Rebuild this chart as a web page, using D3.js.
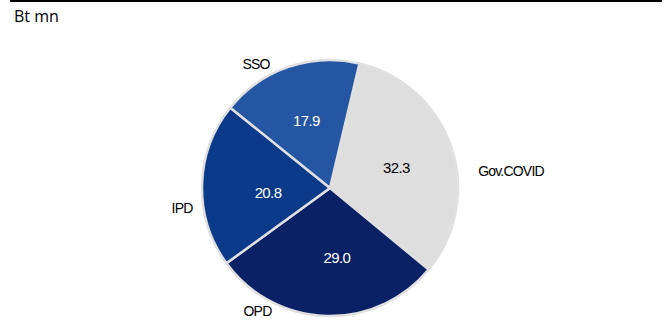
<!DOCTYPE html>
<html><head><meta charset="utf-8">
<script src="https://cdn.jsdelivr.net/npm/d3@7"></script>
<style>body{margin:0;background:#fff}svg{display:block}</style>
</head><body><svg id="c" width="666" height="328"></svg>
<script>
const categories = ["Gov.COVID", "OPD", "IPD", "SSO"];
const values = [32.3, 29.0, 20.8, 17.9];
const colors = ["#dedede", "#0b2166", "#0b3a8a", "#2456a3"];
const valueColors = ["#000000", "#ffffff", "#ffffff", "#ffffff"];
const unitLabel = "Bt mn";

const svg = d3.select("#c");
svg.append("line").attr("x1", 10).attr("x2", 662).attr("y1", 1).attr("y2", 1)
  .attr("stroke", "#000").attr("stroke-width", 2);
svg.append("text").attr("x", 14).attr("y", 22).text(unitLabel)
  .attr("font-family", "Open Sans, Noto Sans, sans-serif").attr("font-size", 16).attr("fill", "#000");

const cx = 330, cy = 188, r = 128;
const data = categories.map((c, i) => ({cat: c, v: values[i], i}));
const startA = 13.3 * Math.PI / 180;
const pie = d3.pie().value(d => d.v).sort(null).startAngle(startA).endAngle(startA + 2 * Math.PI);
const arcs = pie(data);
const arc = d3.arc().innerRadius(0).outerRadius(r);
const g = svg.append("g").attr("transform", `translate(${cx},${cy})`);

g.selectAll("path").data(arcs).join("path")
  .attr("d", arc).attr("fill", d => colors[d.data.i])
  .attr("stroke", "#e0e0e0").attr("stroke-width", 2.5).attr("stroke-linejoin", "round");

// label placement tweaks (Excel-style best-fit positions), in pixels
const valueNudge = {"Gov.COVID": [0, 2], "OPD": [9, 0], "IPD": [8, 6], "SSO": [-1, -1]};
const catNudge = {"Gov.COVID": [43.5, 29], "OPD": [-68, -22], "IPD": [-3, 24], "SSO": [-27, 13]};

const inner = d3.arc().innerRadius(70).outerRadius(70);
g.selectAll("text.val").data(arcs).join("text").attr("class", "val")
  .attr("transform", d => {
    const [x, y] = inner.centroid(d), n = valueNudge[d.data.cat];
    return `translate(${x + n[0]},${y + n[1]})`;
  })
  .attr("text-anchor", "middle").attr("dy", "0.36em")
  .attr("font-family", "Liberation Sans, Arial, sans-serif").attr("font-size", 15)
  .attr("letter-spacing", -0.6)
  .attr("fill", d => valueColors[d.data.i])
  .text(d => d.data.v.toFixed(1));

const outer = d3.arc().innerRadius(145).outerRadius(145);
g.selectAll("text.cat").data(arcs).join("text").attr("class", "cat")
  .attr("transform", d => {
    const [x, y] = outer.centroid(d), n = catNudge[d.data.cat];
    return `translate(${x + n[0]},${y + n[1]})`;
  })
  .attr("text-anchor", "middle")
  .attr("dy", "0.36em")
  .attr("font-family", "Liberation Sans, Arial, sans-serif").attr("font-size", 14)
  .attr("letter-spacing", -0.8)
  .attr("fill", "#000")
  .text(d => d.data.cat);
</script></body></html>
